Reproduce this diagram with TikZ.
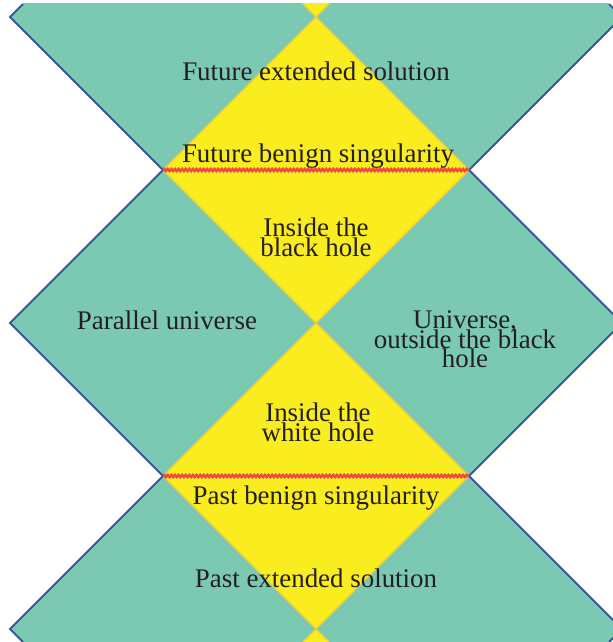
\documentclass[tikz,border=0pt]{standalone}
\usepackage{fontspec}
\setmainfont{Liberation Serif}
\usetikzlibrary{decorations.pathmorphing}
\definecolor{regteal}{HTML}{7BC9B3}
\definecolor{regyel}{HTML}{F9EC1F}
\definecolor{yedge}{HTML}{F2CF3A}
\definecolor{rimblue}{HTML}{38589A}
\definecolor{singred}{HTML}{EE4A45}
\definecolor{inkc}{HTML}{231F20}
\newcommand{\dmdpath}{++(-153,0) -- ++(153,-153) -- ++(153,153) -- ++(-153,153) -- cycle}
\newcommand{\labfont}{\fontsize{27}{19.5}\selectfont\lineskiplimit=-50pt\relax}
\tikzset{
  outside/.style={fill=regteal},
  inside/.style={fill=regyel,draw=yedge,line width=1.2bp},
  rim/.style={draw=rimblue,line width=2.1bp,line join=miter},
  sing/.style={draw=singred,line width=2.6bp,decorate,
    decoration={snake,amplitude=1bp,segment length=3.6bp}},
  lab/.style={font=\labfont,text=inkc,inner sep=0pt,align=center},
}
\begin{document}
\begin{tikzpicture}[x=1bp,y=-1bp]
  \useasboundingbox (0,0) rectangle (613,642);
  \clip (0,4) rectangle (613,642);
  % ---- outer regions ----
  \foreach \cx in {163,469}
    \foreach \cy in {17,323,629}
      \path[outside] (\cx,\cy) \dmdpath;
  % ---- horizon interiors ----
  \foreach \cy in {-136,170,476,782}
    \path[inside] (316,\cy) \dmdpath;
  % ---- boundary of the diagram ----
  \draw[rim] (23,4) -- (10,17) -- (163,170) -- (10,323) -- (163,476) -- (10,629) -- (23,642);
  \draw[rim] (609,4) -- (622,17) -- (469,170) -- (622,323) -- (469,476) -- (622,629) -- (609,642);
  % ---- benign singularities ----
  \coordinate (fsL) at (163,170);
  \coordinate (fsR) at (469,170);
  \coordinate (psL) at (163,476);
  \coordinate (psR) at (469,476);
  \draw[sing] (fsL) -- (fsR);
  \draw[sing] (psL) -- (psR);
  % ---- labels ----
  \node[lab,anchor=base] (fext) at (316,81) {Future extended solution};
  \node[lab,anchor=base] (fsing) at (318,163) {Future benign singularity};
  \node[lab] (bh) at (316,237.5) {Inside the\\black hole};
  \node[lab,anchor=base] (par) at (167,329) {Parallel universe};
  \node[lab] (univ) at (465,339.3) {Universe,\\outside the black\\hole};
  \node[lab] (wh) at (318,422.5) {Inside the\\white hole};
  \node[lab,anchor=base] (psing) at (316,504) {Past benign singularity};
  \node[lab,anchor=base] (pext) at (316,587) {Past extended solution};
\end{tikzpicture}
\end{document}
